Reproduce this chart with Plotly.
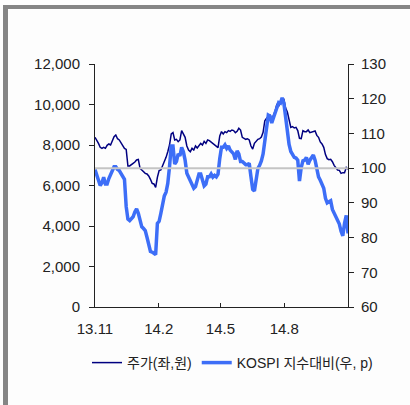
import pandas as pd
import plotly.graph_objects as go

# Observation dates: every 2.5 days, Nov 2013 - Nov 2014
dates = pd.date_range("2013-11-01", periods=147, freq="60h")

# Share price (left axis, KRW)
price = [
    8380, 8250, 8080, 7885, 7835, 7885, 7835, 7985, 8050, 8000,
    8250, 8410, 8495, 8310, 8250, 8115, 7950, 7835, 7785, 6965,
    6965, 7010, 7095, 7160, 7260, 7290, 6850, 6765, 6665, 6600,
    6570, 6470, 6305, 6105, 6075, 5910, 6405, 6735, 6765, 6965,
    7260, 7390, 7670, 8000, 8545, 8610, 8250, 8280, 8165, 8250,
    8710, 8510, 8380, 7950, 7755, 7670, 7835, 7755, 7950, 7850,
    8000, 8080, 8000, 8180, 8080, 8250, 8215, 8150, 8080, 8000,
    7920, 7870, 8445, 8660, 8545, 8660, 8610, 8710, 8675, 8740,
    8710, 8610, 8675, 8825, 8740, 8380, 8330, 8280, 8310, 8250,
    7950, 7800, 8080, 8215, 8280, 8310, 8395, 8625, 9200, 9320,
    9400, 9465, 9250, 9430, 9695, 10025, 9925, 10155, 10240, 10255,
    9825, 9630, 9270, 8870, 8905, 8840, 8870, 8710, 8330, 8310,
    8710, 8660, 8660, 8740, 8610, 8640, 8660, 8690, 8475, 8380,
    8150, 8050, 7885, 7525, 7325, 7275, 7290, 7175, 6995, 6895,
    6765, 6750, 6600, 6635, 6635, 6895, 6800,
]

# Share price relative to KOSPI (right axis, start = 100)
relative = [
    99.6, 98.0, 96.0, 95.0, 95.8, 97.4, 95.4, 95.4, 97.0, 98.1,
    99.0, 100.4, 100.4, 99.6, 99.3, 98.5, 97.7, 96.8, 88.9, 85.3,
    84.9, 85.3, 86.0, 87.4, 88.3, 87.0, 85.1, 83.1, 82.6, 82.0,
    80.1, 78.3, 76.0, 75.8, 75.5, 75.1, 84.1, 84.7, 87.0, 89.7,
    92.0, 93.1, 95.6, 100.4, 106.4, 106.4, 101.2, 101.9, 104.1, 103.5,
    106.0, 104.7, 102.3, 98.5, 97.5, 96.1, 95.0, 94.2, 94.7, 96.8,
    98.3, 98.3, 96.4, 94.9, 95.4, 97.5, 97.5, 98.3, 97.4, 97.9,
    97.5, 98.3, 102.8, 106.0, 106.0, 106.7, 105.7, 106.4, 105.2, 104.6,
    104.1, 102.5, 105.0, 104.1, 101.9, 101.9, 101.4, 101.0, 101.0, 101.4,
    97.5, 93.9, 93.4, 97.0, 99.9, 100.8, 102.1, 104.1, 107.8, 111.7,
    115.3, 115.0, 113.0, 114.5, 115.9, 117.0, 118.9, 118.7, 120.3, 118.7,
    114.3, 110.2, 106.8, 104.8, 104.0, 103.1, 102.9, 102.3, 96.3, 100.2,
    102.1, 102.3, 103.1, 101.1, 102.3, 103.3, 103.8, 102.3, 100.2, 97.5,
    96.5, 95.6, 94.2, 91.3, 90.0, 90.3, 90.6, 88.1, 87.0, 86.4,
    85.4, 83.9, 81.8, 80.5, 84.1, 86.4, 81.2,
]

base_level = 100

tick_dates = ["2013-11-01", "2014-02-01", "2014-05-01", "2014-08-01", "2014-11-01"]
tick_text = ["13.11", "14.2", "14.5", "14.8", ""]

left_ticks = [0, 2000, 4000, 6000, 8000, 10000, 12000]
right_ticks = [60, 70, 80, 90, 100, 110, 120, 130]

NAVY = "#000080"
BLUE = "#3d6ef7"
FONT = "Liberation Sans, Arial, Noto Sans CJK KR, sans-serif"

fig = go.Figure()

fig.add_trace(go.Scatter(
    x=dates, y=relative, yaxis="y2", mode="lines",
    name="KOSPI 지수대비(우, p)",
    line=dict(color=BLUE, width=3.5),
    legendrank=2,
))

fig.add_trace(go.Scatter(
    x=[dates[0], dates[-1]], y=[base_level, base_level], yaxis="y2",
    mode="lines", line=dict(color="#c4c4c4", width=2),
    showlegend=False, hoverinfo="skip",
))

fig.add_trace(go.Scatter(
    x=dates, y=price, mode="lines",
    name="주가(좌,원)",
    line=dict(color=NAVY, width=1.5),
    legendrank=1,
))

# plot-area geometry in pixels, used for the outer frame and legend
W, H = 410, 405
L, R, T, B = 95, 62, 64, 98
pw, ph = W - L - R, H - T - B


def px_x(x):
    return (x - L) / pw


def px_y(y):
    return (H - B - y) / ph


frame = [
    dict(type="rect", xref="paper", yref="paper",
         x0=px_x(3), x1=px_x(412), y0=px_y(9), y1=px_y(5),
         fillcolor="#858585", line=dict(width=0), layer="below"),
    dict(type="rect", xref="paper", yref="paper",
         x0=px_x(3), x1=px_x(8), y0=px_y(410), y1=px_y(5),
         fillcolor="#858585", line=dict(width=0), layer="below"),
]

fig.update_layout(
    width=W, height=H,
    margin=dict(l=L, r=R, t=T, b=B),
    paper_bgcolor="#fdfdfd",
    plot_bgcolor="#fdfdfd",
    font=dict(family=FONT, size=14, color="#222222"),
    shapes=frame,
    xaxis=dict(
        type="date",
        range=["2013-11-01", "2014-11-01"],
        tickvals=tick_dates, ticktext=tick_text,
        ticks="inside", ticklen=4, tickcolor="#222", tickwidth=1,
        showline=True, linecolor="#222", linewidth=1,
        showgrid=False, zeroline=False,
        tickfont=dict(size=15),
        ticklabelstandoff=8,
    ),
    yaxis=dict(
        range=[0, 12000], tickvals=left_ticks,
        tickformat=",d",
        ticks="outside", ticklen=5, tickcolor="#222",
        showline=True, linecolor="#222", linewidth=1,
        showgrid=False, zeroline=False,
        tickfont=dict(size=15),
        ticklabelstandoff=6,
    ),
    yaxis2=dict(
        range=[60, 130], tickvals=right_ticks,
        overlaying="y", side="right",
        ticks="outside", ticklen=5, tickcolor="#222",
        showline=True, linecolor="#222", linewidth=1,
        showgrid=False, zeroline=False,
        tickfont=dict(size=15),
        ticklabelstandoff=4,
    ),
    legend=dict(
        orientation="h", x=px_x(87), xanchor="left",
        y=px_y(363), yanchor="middle",
        font=dict(size=14),
        bgcolor="rgba(0,0,0,0)",
        itemwidth=30,
    ),
    showlegend=True,
)

fig.write_html("out.html")
